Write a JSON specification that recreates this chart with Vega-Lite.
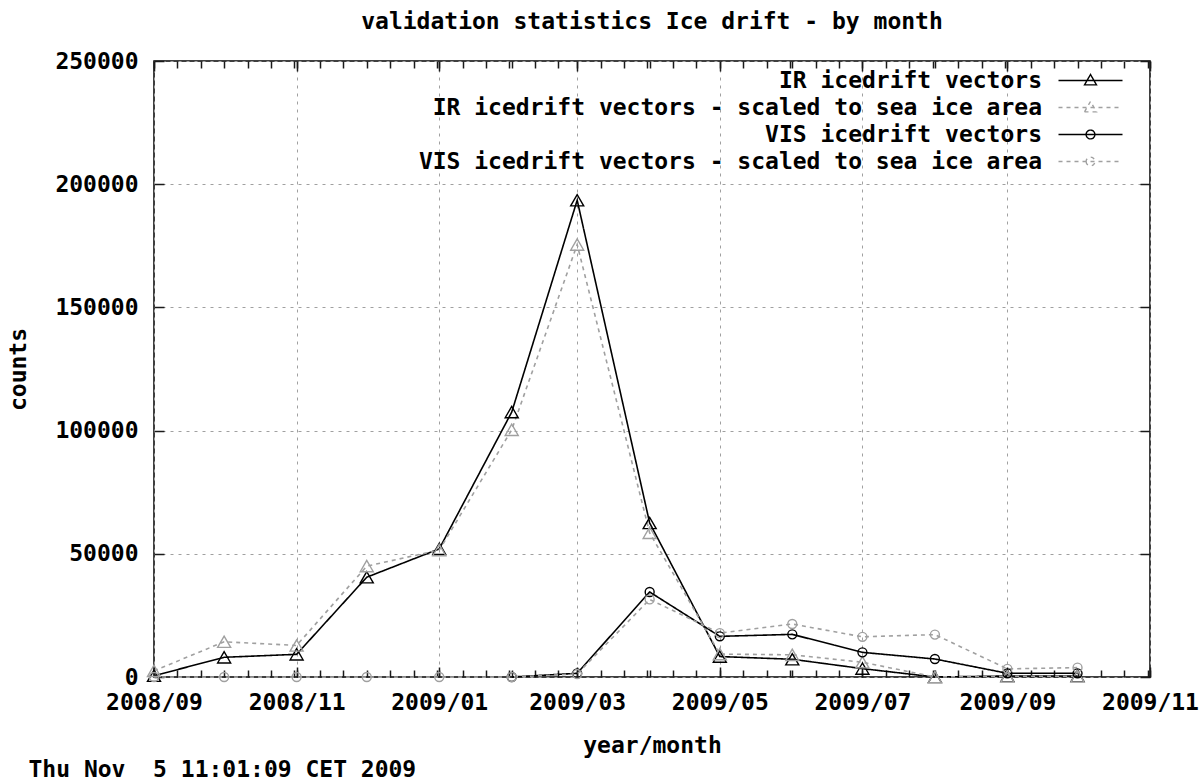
{
  "$schema": "https://vega.github.io/schema/vega-lite/v6.json",
  "width": 996,
  "height": 616,
  "autosize": "none",
  "padding": {"left": 154, "top": 61, "right": 49, "bottom": 105},
  "background": "white",
  "title": {"text": "validation statistics Ice drift - by month", "font": "DejaVu Sans Mono", "fontWeight": "bold", "fontSize": 23, "color": "black", "anchor": "middle", "baseline": "alphabetic", "offset": 0, "dy": 2},
  "config": {
    "font": "DejaVu Sans Mono",
    "view": {"stroke": "black", "strokeWidth": 1.5},
    "axis": {"labelFont": "DejaVu Sans Mono", "labelFontWeight": "bold", "labelFontSize": 23, "labelColor": "black", "titleFont": "DejaVu Sans Mono", "titleFontWeight": "bold", "titleFontSize": 23, "titleColor": "black", "domain": false, "grid": false, "gridColor": "#a0a0a0", "gridDash": [3, 5], "gridWidth": 1, "labelFlush": false, "labelOverlap": false},
    "legend": {"orient": "none", "legendX": 925, "legendY": 8, "labelAlign": "right", "labelOffset": -60, "labelLimit": 0, "labelFont": "DejaVu Sans Mono", "labelFontWeight": "bold", "labelFontSize": 23, "labelColor": "black", "symbolSize": 64, "symbolStrokeWidth": 1.4, "rowPadding": 3, "padding": 0, "titlePadding": 0}
  },
  "data": {"values": [
    {"month": "2008-09-01", "series": "IR icedrift vectors", "count": 500},
    {"month": "2008-10-01", "series": "IR icedrift vectors", "count": 8000},
    {"month": "2008-11-01", "series": "IR icedrift vectors", "count": 9200},
    {"month": "2008-12-01", "series": "IR icedrift vectors", "count": 40500},
    {"month": "2009-01-01", "series": "IR icedrift vectors", "count": 52000},
    {"month": "2009-02-01", "series": "IR icedrift vectors", "count": 107500},
    {"month": "2009-03-01", "series": "IR icedrift vectors", "count": 193500},
    {"month": "2009-04-01", "series": "IR icedrift vectors", "count": 62500},
    {"month": "2009-05-01", "series": "IR icedrift vectors", "count": 8300},
    {"month": "2009-06-01", "series": "IR icedrift vectors", "count": 7200},
    {"month": "2009-07-01", "series": "IR icedrift vectors", "count": 3400},
    {"month": "2009-08-01", "series": "IR icedrift vectors", "count": 0},
    {"month": "2009-09-01", "series": "IR icedrift vectors", "count": 400},
    {"month": "2009-10-01", "series": "IR icedrift vectors", "count": 400},
    {"month": "2008-09-01", "series": "IR icedrift vectors - scaled to sea ice area", "count": 2500},
    {"month": "2008-10-01", "series": "IR icedrift vectors - scaled to sea ice area", "count": 14300},
    {"month": "2008-11-01", "series": "IR icedrift vectors - scaled to sea ice area", "count": 12800},
    {"month": "2008-12-01", "series": "IR icedrift vectors - scaled to sea ice area", "count": 45000},
    {"month": "2009-01-01", "series": "IR icedrift vectors - scaled to sea ice area", "count": 51500},
    {"month": "2009-02-01", "series": "IR icedrift vectors - scaled to sea ice area", "count": 100300},
    {"month": "2009-03-01", "series": "IR icedrift vectors - scaled to sea ice area", "count": 175500},
    {"month": "2009-04-01", "series": "IR icedrift vectors - scaled to sea ice area", "count": 58500},
    {"month": "2009-05-01", "series": "IR icedrift vectors - scaled to sea ice area", "count": 9300},
    {"month": "2009-06-01", "series": "IR icedrift vectors - scaled to sea ice area", "count": 9000},
    {"month": "2009-07-01", "series": "IR icedrift vectors - scaled to sea ice area", "count": 6000},
    {"month": "2009-08-01", "series": "IR icedrift vectors - scaled to sea ice area", "count": 0},
    {"month": "2009-09-01", "series": "IR icedrift vectors - scaled to sea ice area", "count": 300},
    {"month": "2009-10-01", "series": "IR icedrift vectors - scaled to sea ice area", "count": 300},
    {"month": "2009-02-01", "series": "VIS icedrift vectors", "count": 0},
    {"month": "2009-03-01", "series": "VIS icedrift vectors", "count": 1500},
    {"month": "2009-04-01", "series": "VIS icedrift vectors", "count": 34500},
    {"month": "2009-05-01", "series": "VIS icedrift vectors", "count": 16500},
    {"month": "2009-06-01", "series": "VIS icedrift vectors", "count": 17300},
    {"month": "2009-07-01", "series": "VIS icedrift vectors", "count": 10000},
    {"month": "2009-08-01", "series": "VIS icedrift vectors", "count": 7300},
    {"month": "2009-09-01", "series": "VIS icedrift vectors", "count": 1500},
    {"month": "2009-10-01", "series": "VIS icedrift vectors", "count": 1500},
    {"month": "2008-09-01", "series": "VIS icedrift vectors - scaled to sea ice area", "count": 0},
    {"month": "2008-10-01", "series": "VIS icedrift vectors - scaled to sea ice area", "count": 0},
    {"month": "2008-11-01", "series": "VIS icedrift vectors - scaled to sea ice area", "count": 0},
    {"month": "2008-12-01", "series": "VIS icedrift vectors - scaled to sea ice area", "count": 0},
    {"month": "2009-01-01", "series": "VIS icedrift vectors - scaled to sea ice area", "count": 0},
    {"month": "2009-02-01", "series": "VIS icedrift vectors - scaled to sea ice area", "count": 0},
    {"month": "2009-03-01", "series": "VIS icedrift vectors - scaled to sea ice area", "count": 1200},
    {"month": "2009-04-01", "series": "VIS icedrift vectors - scaled to sea ice area", "count": 31500},
    {"month": "2009-05-01", "series": "VIS icedrift vectors - scaled to sea ice area", "count": 17800},
    {"month": "2009-06-01", "series": "VIS icedrift vectors - scaled to sea ice area", "count": 21500},
    {"month": "2009-07-01", "series": "VIS icedrift vectors - scaled to sea ice area", "count": 16300},
    {"month": "2009-08-01", "series": "VIS icedrift vectors - scaled to sea ice area", "count": 17200},
    {"month": "2009-09-01", "series": "VIS icedrift vectors - scaled to sea ice area", "count": 3300},
    {"month": "2009-10-01", "series": "VIS icedrift vectors - scaled to sea ice area", "count": 3800}
  ]},
  "encoding": {
    "x": {"field": "month", "type": "temporal", "scale": {"type": "utc", "domain": [{"year": 2008, "month": 9, "date": 1, "utc": true}, {"year": 2009, "month": 11, "date": 1, "utc": true}]}},
    "y": {"field": "count", "type": "quantitative", "scale": {"domain": [0, 250000], "nice": false, "zero": true}}
  },
  "layer": [
    {
      "mark": {"type": "line", "strokeWidth": 1.6},
      "encoding": {
        "x": {"field": "month", "type": "temporal", "axis": {"orient": "bottom", "labelExpr": "utcFormat(datum.value, '%Y/%m')", "tickCount": {"interval": "month", "step": 2}, "grid": true, "ticks": false, "labelPadding": 14, "title": "year/month", "titleX": 498, "titleY": 68, "titleAlign": "center", "titleBaseline": "middle"}},
        "y": {"field": "count", "type": "quantitative", "axis": {"orient": "left", "values": [0, 50000, 100000, 150000, 200000, 250000], "format": "d", "grid": true, "ticks": false, "labelPadding": 16, "title": "counts", "titleX": -136, "titleY": 308, "titleAngle": -90, "titleAlign": "center", "titleBaseline": "middle"}},
        "color": {"field": "series", "type": "nominal", "title": null, "scale": {"domain": ["IR icedrift vectors", "IR icedrift vectors - scaled to sea ice area", "VIS icedrift vectors", "VIS icedrift vectors - scaled to sea ice area"], "range": ["black", "#a0a0a0", "black", "#a0a0a0"]}},
        "strokeDash": {"field": "series", "type": "nominal", "title": null, "scale": {"domain": ["IR icedrift vectors", "IR icedrift vectors - scaled to sea ice area", "VIS icedrift vectors", "VIS icedrift vectors - scaled to sea ice area"], "range": [[1, 0], [4, 4], [1, 0], [4, 4]]}}
      }
    },
    {
      "transform": [{"filter": {"field": "series", "oneOf": ["IR icedrift vectors", "IR icedrift vectors - scaled to sea ice area"]}}],
      "mark": {"type": "point", "shape": "triangle-up", "filled": false, "size": 170, "strokeWidth": 1.4, "opacity": 1},
      "encoding": {
        "x": {"field": "month", "type": "temporal", "axis": {"orient": "bottom", "tickCount": {"interval": "month", "step": 2}, "labels": false, "ticks": true, "tickSize": -10, "tickColor": "#1a1a1a", "tickWidth": 1.5, "title": null}},
        "y": {"field": "count", "type": "quantitative", "axis": {"orient": "left", "values": [0, 50000, 100000, 150000, 200000, 250000], "labels": false, "ticks": true, "tickSize": -10, "tickColor": "#1a1a1a", "tickWidth": 1.5, "title": null}},
        "color": {"field": "series", "type": "nominal", "title": null}
      }
    },
    {
      "transform": [{"filter": {"field": "series", "oneOf": ["VIS icedrift vectors", "VIS icedrift vectors - scaled to sea ice area"]}}],
      "mark": {"type": "point", "shape": "circle", "filled": false, "size": 80, "strokeWidth": 1.4, "opacity": 1},
      "encoding": {
        "x": {"field": "month", "type": "temporal", "axis": {"orient": "top", "tickCount": {"interval": "month", "step": 2}, "labels": false, "ticks": true, "tickSize": -10, "tickColor": "#1a1a1a", "tickWidth": 1.5, "title": null}},
        "y": {"field": "count", "type": "quantitative", "axis": {"orient": "right", "values": [0, 50000, 100000, 150000, 200000, 250000], "labels": false, "ticks": true, "tickSize": -10, "tickColor": "#1a1a1a", "tickWidth": 1.5, "title": null}},
        "color": {"field": "series", "type": "nominal", "title": null}
      }
    },
    {
      "transform": [{"filter": "false"}],
      "mark": {"type": "point", "filled": false, "opacity": 1},
      "encoding": {
        "x": {"field": "month", "type": "temporal", "axis": {"orient": "bottom", "labels": false, "ticks": true, "tickSize": -7, "tickColor": "#1a1a1a", "tickWidth": 1.5, "title": "Thu Nov \u00a05 11:01:09 CET 2009", "titleX": -126, "titleY": 92, "titleAlign": "left", "titleBaseline": "middle", "tickCount": {"interval": "day", "step": 10}}},
        "y": {"field": "count", "type": "quantitative", "axis": null},
        "color": {"field": "series", "type": "nominal", "title": null},
        "strokeDash": {"field": "series", "type": "nominal", "title": null},
        "shape": {"field": "series", "type": "nominal", "title": null, "scale": {"domain": ["IR icedrift vectors", "IR icedrift vectors - scaled to sea ice area", "VIS icedrift vectors", "VIS icedrift vectors - scaled to sea ice area"], "range": ["M-8,0H8M-1.5,1.1L0,-1.5L1.5,1.1Z", "M-8,0H8M-1.5,1.1L0,-1.5L1.5,1.1Z", "M-8,0H8M-1.1,0A1.1,1.1 0 1,0 1.1,0A1.1,1.1 0 1,0 -1.1,0Z", "M-8,0H8M-1.1,0A1.1,1.1 0 1,0 1.1,0A1.1,1.1 0 1,0 -1.1,0Z"]}}
      }
    },
    {
      "transform": [{"filter": "false"}],
      "mark": {"type": "point", "opacity": 1},
      "encoding": {
        "x": {"field": "month", "type": "temporal", "axis": {"orient": "top", "labels": false, "ticks": true, "tickSize": -7, "tickColor": "#1a1a1a", "tickWidth": 1.5, "title": null, "tickCount": {"interval": "day", "step": 10}}},
        "y": {"field": "count", "type": "quantitative", "axis": null}
      }
    }
  ],
  "resolve": {"axis": {"x": "independent", "y": "independent"}}
}
